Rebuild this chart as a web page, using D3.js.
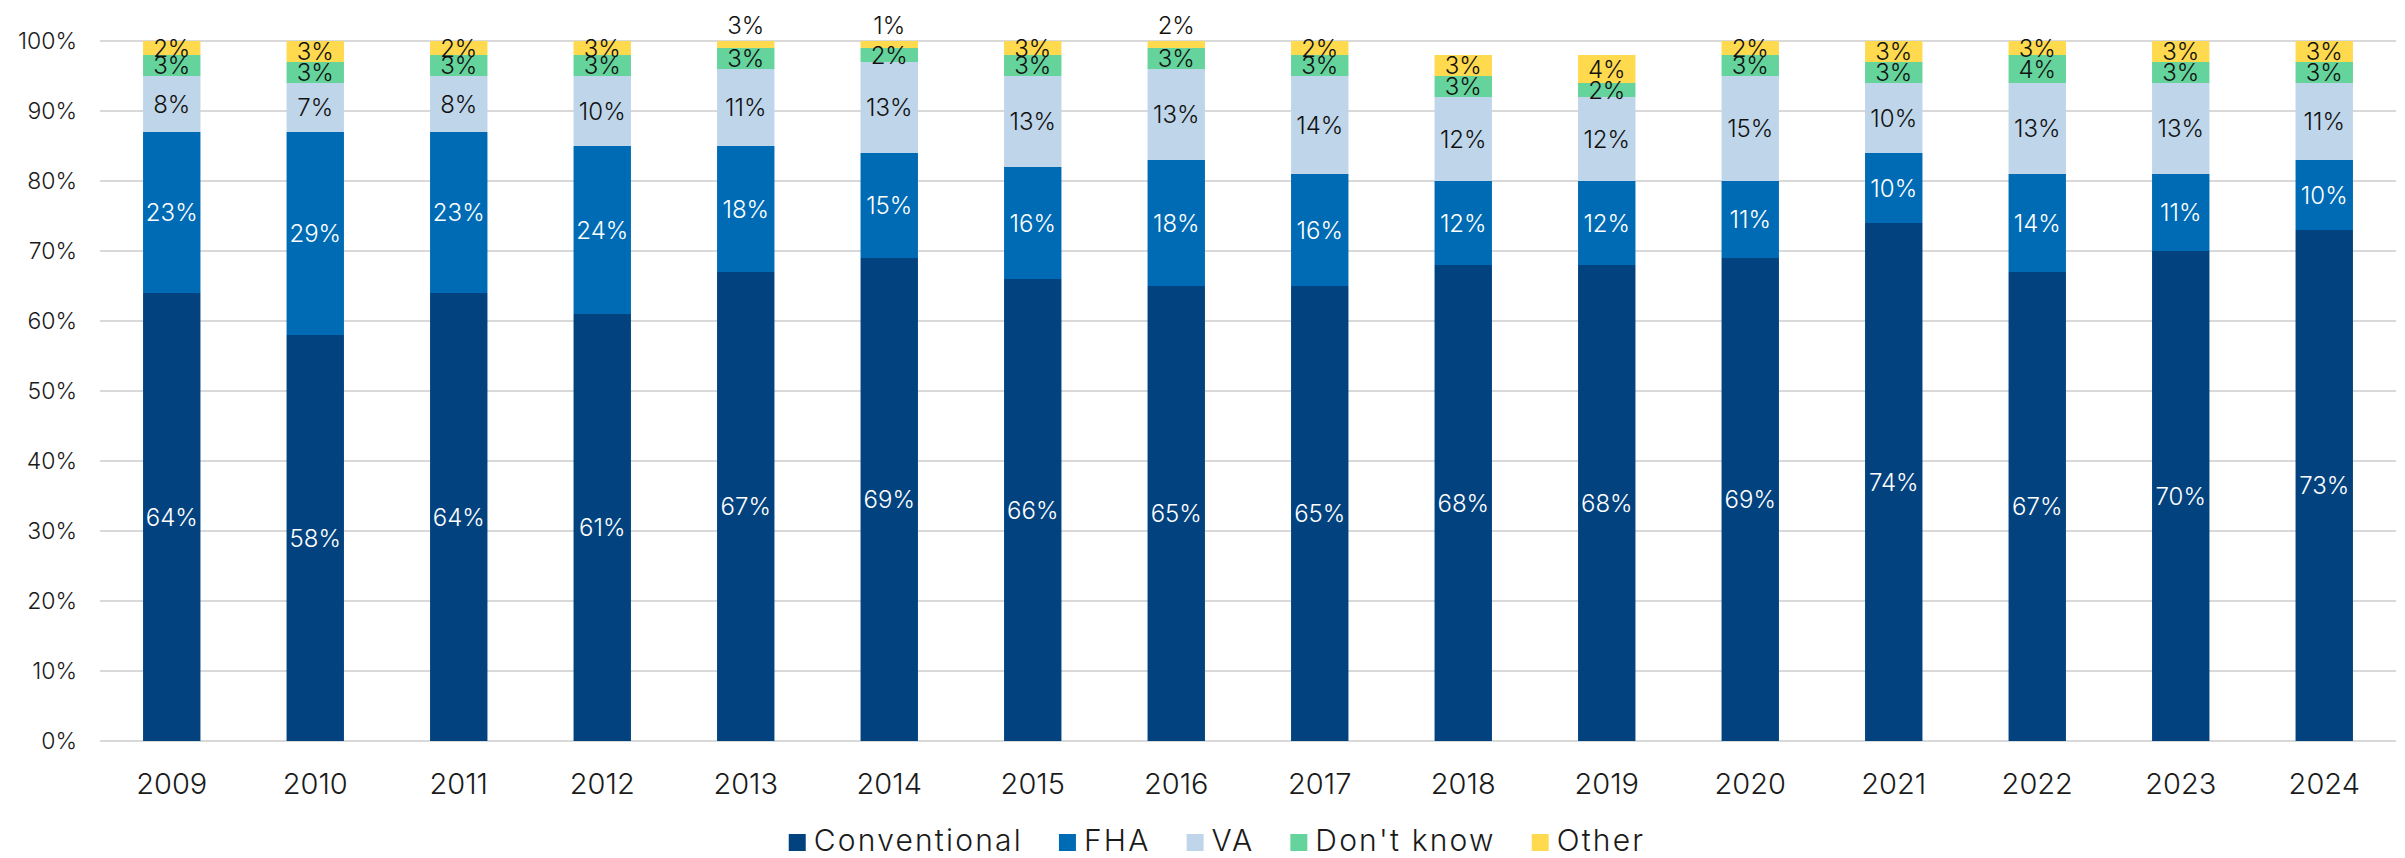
<!DOCTYPE html>
<html>
<head>
<meta charset="utf-8">
<script src="https://cdn.jsdelivr.net/npm/d3@7"></script>
<style>
  body { margin: 0; background: #fff; }
  svg { display: block; }
  text { font-family: Inter, "Noto Sans", sans-serif; font-weight: 300; }
</style>
</head>
<body>
<svg id="chart" width="2405" height="858"></svg>
<script>
// Mortgage type share by year (percent)
const years        = ["2009","2010","2011","2012","2013","2014","2015","2016","2017","2018","2019","2020","2021","2022","2023","2024"];
const conventional = [64, 58, 64, 61, 67, 69, 66, 65, 65, 68, 68, 69, 74, 67, 70, 73];
const fha          = [23, 29, 23, 24, 18, 15, 16, 18, 16, 12, 12, 11, 10, 14, 11, 10];
const va           = [ 8,  7,  8, 10, 11, 13, 13, 13, 14, 12, 12, 15, 10, 13, 13, 11];
const dontKnow     = [ 3,  3,  3,  3,  3,  2,  3,  3,  3,  3,  2,  3,  3,  4,  3,  3];
const other        = [ 2,  3,  2,  3,  3,  1,  3,  2,  2,  3,  4,  2,  3,  3,  3,  3];
const yTicks       = [0, 10, 20, 30, 40, 50, 60, 70, 80, 90, 100];

const seriesKeys   = ["Conventional", "FHA", "VA", "Don't know", "Other"];
const seriesValues = [conventional, fha, va, dontKnow, other];
const seriesColors = ["#02437f", "#006bb5", "#bfd6ea", "#64d39c", "#ffd94e"];
const labelColors  = ["#ffffff", "#ffffff", "#111111", "#111111", "#111111"];

const rows = years.map((yr, i) => {
  const r = { year: yr };
  seriesKeys.forEach((k, s) => r[k] = seriesValues[s][i]);
  return r;
});

const svg = d3.select("#chart");
const plot = { left: 100, right: 2396, top: 41, bottom: 741 };

const x = d3.scaleBand()
  .domain(years)
  .range([plot.left, plot.right])
  .paddingInner(0.6)
  .paddingOuter(0.3);

const y = d3.scaleLinear()
  .domain([0, 100])
  .range([plot.bottom, plot.top])
  .clamp(true);

// horizontal gridlines
svg.append("g")
  .selectAll("line")
  .data(yTicks)
  .join("line")
  .attr("x1", plot.left)
  .attr("x2", plot.right)
  .attr("y1", d => y(d))
  .attr("y2", d => y(d))
  .attr("stroke", "#d9d9d9")
  .attr("stroke-width", 2);

// y tick labels
svg.append("g")
  .selectAll("text")
  .data(yTicks)
  .join("text")
  .attr("x", 77)
  .attr("y", d => y(d))
  .attr("text-anchor", "end")
  .attr("dominant-baseline", "central")
  .attr("font-size", 23)
  .attr("fill", "#1a1a1a")
  .text(d => d + "%");

// year labels
svg.append("g")
  .selectAll("text")
  .data(years)
  .join("text")
  .attr("x", d => x(d) + x.bandwidth() / 2)
  .attr("y", 783)
  .attr("text-anchor", "middle")
  .attr("dominant-baseline", "central")
  .attr("font-size", 29)
  .attr("fill", "#1a1a1a")
  .text(d => d);

const stacked = d3.stack().keys(seriesKeys)(rows);

// stacked bars (values above 100% are cut at the top of the axis)
const layers = svg.append("g")
  .selectAll("g")
  .data(stacked)
  .join("g")
  .attr("fill", (d, i) => seriesColors[i]);

layers.selectAll("rect")
  .data(d => d)
  .join("rect")
  .attr("x", d => x(d.data.year))
  .attr("width", x.bandwidth())
  .attr("y", d => y(d[1]))
  .attr("height", d => Math.max(0, y(d[0]) - y(d[1])));

// value labels
const labelLayers = svg.append("g")
  .selectAll("g")
  .data(stacked)
  .join("g")
  .attr("fill", (d, i) => labelColors[i]);

labelLayers.selectAll("text")
  .data(d => d.map(p => ({ p, key: d.key })))
  .join("text")
  .attr("x", d => x(d.p.data.year) + x.bandwidth() / 2)
  .attr("y", d => {
    const top = y(d.p[1]), bottom = y(d.p[0]);
    if (bottom - top < 8) return y(100) - 16;
    return (top + bottom) / 2;
  })
  .attr("text-anchor", "middle")
  .attr("dominant-baseline", "central")
  .attr("font-size", 24)
  .text(d => d.p.data[d.key] + "%");

// legend
const legend = svg.append("g");
const items = legend.selectAll("g")
  .data(seriesKeys)
  .join("g");
items.append("rect")
  .attr("width", 17)
  .attr("height", 17)
  .attr("y", 834)
  .attr("fill", (d, i) => seriesColors[i]);
items.append("text")
  .attr("x", 25)
  .attr("y", 851)
  .attr("font-size", 30)
  .attr("letter-spacing", 2.2)
  .attr("fill", "#1a1a1a")
  .text(d => d);

const gap = 36;
const widths = [];
items.each(function () {
  widths.push(this.querySelector("text").getComputedTextLength() + 25);
});
const total = d3.sum(widths) + gap * (widths.length - 1);
let cursor = 1217 - total / 2;
items.attr("transform", (d, i) => {
  const t = `translate(${cursor},0)`;
  cursor += widths[i] + gap;
  return t;
});
</script>
</body>
</html>
